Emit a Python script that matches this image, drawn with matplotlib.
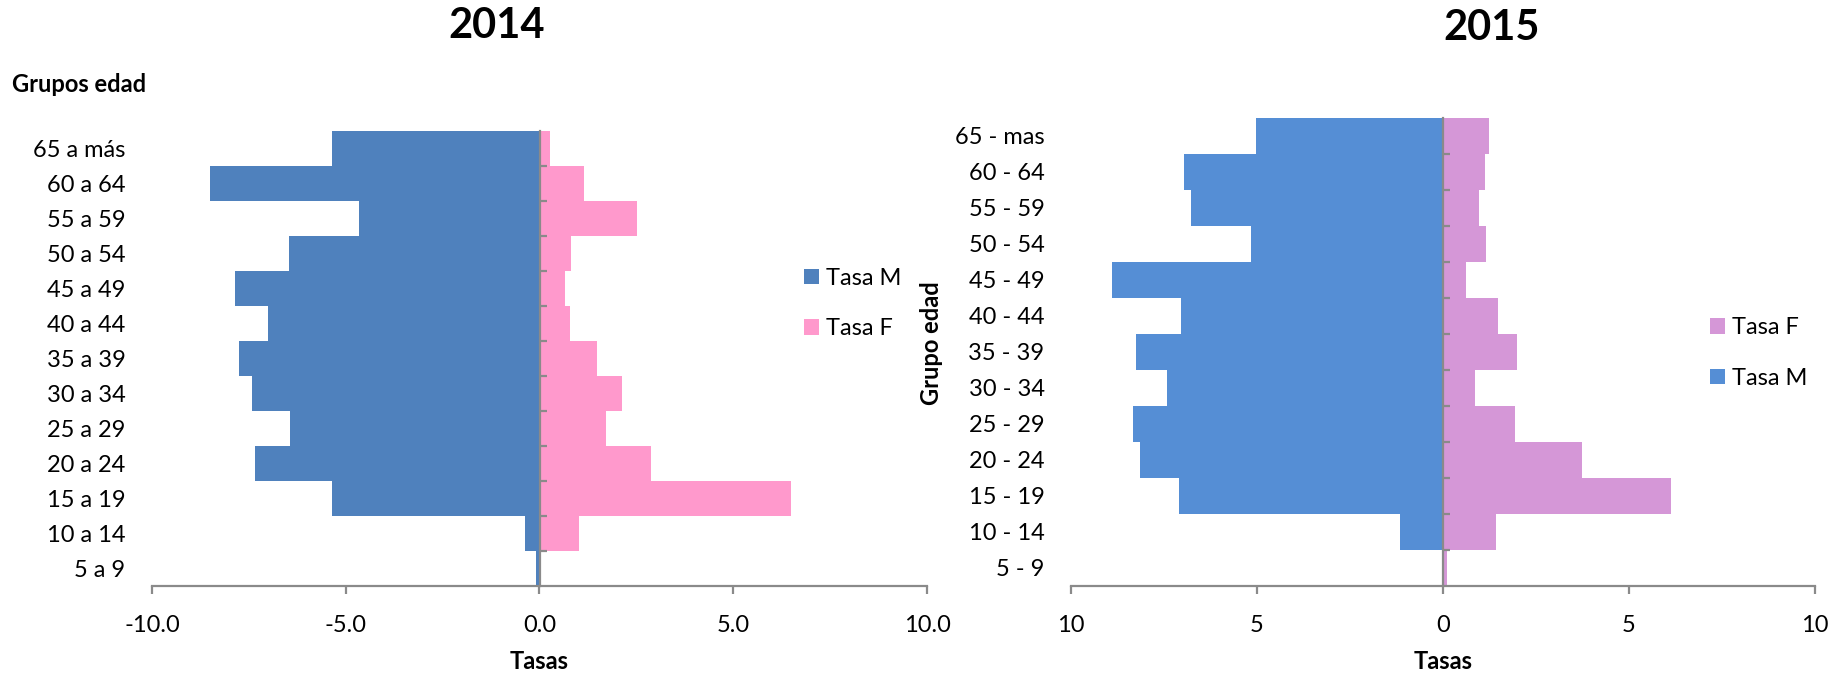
import matplotlib
matplotlib.use("Agg")
import matplotlib.pyplot as plt
from matplotlib.ticker import FuncFormatter
import numpy as np

plt.rcParams['font.family'] = ['Lato', 'DejaVu Sans']

# ---------------- data (bottom to top) ----------------
groups_2014 = ["5 a 9", "10 a 14", "15 a 19", "20 a 24", "25 a 29", "30 a 34",
               "35 a 39", "40 a 44", "45 a 49", "50 a 54", "55 a 59", "60 a 64", "65 a más"]
tasa_m_2014 = [-0.08, -0.38, -5.36, -7.35, -6.44, -7.41, -7.76, -7.01, -7.87, -6.46, -4.65, -8.50, -5.36]
tasa_f_2014 = [0.0, 1.03, 6.48, 2.89, 1.71, 2.13, 1.49, 0.79, 0.66, 0.82, 2.52, 1.16, 0.26]

groups_2015 = ["5 - 9", "10 - 14", "15 - 19", "20 - 24", "25 - 29", "30 - 34",
               "35 - 39", "40 - 44", "45 - 49", "50 - 54", "55 - 59", "60 - 64", "65 - mas"]
tasa_m_2015 = [0.0, -1.16, -7.09, -8.15, -8.33, -7.43, -8.26, -7.04, -8.90, -5.16, -6.78, -6.97, -5.04]
tasa_f_2015 = [0.11, 1.42, 6.12, 3.75, 1.93, 0.85, 2.00, 1.47, 0.63, 1.16, 0.96, 1.13, 1.23]

xticks = [-10, -5, 0, 5, 10]

# ---------------- styling ----------------
W, H = 1833, 675
fig = plt.figure(figsize=(W / 100, H / 100), dpi=100)
AXC = '#8a8a8a'
FS = 17


def px_axes(x0, x1, ytop, ybot):
    return fig.add_axes([x0 / W, 1 - ybot / H, (x1 - x0) / W, (ybot - ytop) / H])


ax1 = px_axes(152, 927, 131, 586)
ax2 = px_axes(1071, 1815, 118, 586)

specs = [
    (ax1, groups_2014, tasa_m_2014, tasa_f_2014, '#4f81bd', '#ff99cc',
     FuncFormatter(lambda v, p: f"{v:.1f}")),
    (ax2, groups_2015, tasa_m_2015, tasa_f_2015, '#558ed5', '#d597d7',
     FuncFormatter(lambda v, p: f"{abs(v):.0f}")),
]

handles = []
for ax, cats, m, f, cm, cf, fmt in specs:
    y = np.arange(len(cats))
    bm = ax.barh(y, m, height=1.0, color=cm, linewidth=0, label='Tasa M')
    bf = ax.barh(y, f, height=1.0, color=cf, linewidth=0, label='Tasa F')
    handles.append((bm, bf))
    ax.set_xlim(-10, 10)
    ax.set_ylim(-0.5, len(cats) - 0.5)
    ax.set_yticks(y, cats)
    ax.tick_params(axis='y', length=0, pad=19, labelsize=FS)
    for s in ['top', 'right', 'left']:
        ax.spines[s].set_visible(False)
    ax.spines['bottom'].set_color(AXC)
    ax.spines['bottom'].set_linewidth(1.6)
    ax.set_xticks(xticks)
    ax.xaxis.set_major_formatter(fmt)
    ax.tick_params(axis='x', length=6, width=1.6, color=AXC, labelsize=FS, pad=15)
    ax.set_xlabel('Tasas', fontsize=FS, fontweight='bold', labelpad=10)

    sec = ax.secondary_yaxis(0.5)
    sec.set_ylim(ax.get_ylim())
    sec.set_yticks(np.arange(0.5, len(cats) - 0.5, 1.0))
    sec.tick_params(axis='y', length=5, width=1.6, color=AXC,
                    labelleft=False, labelright=False)
    for s in sec.spines.values():
        s.set_color(AXC)
        s.set_linewidth(1.6)
    sec.set_zorder(5)

# titles
fig.text(497 / W, 1 - 26 / H, '2014', ha='center', va='center', fontsize=30, fontweight='bold')
fig.text(1492 / W, 1 - 28 / H, '2015', ha='center', va='center', fontsize=30, fontweight='bold')

# axis titles
fig.text(12 / W, 1 - 85 / H, 'Grupos edad', ha='left', va='center', fontsize=FS, fontweight='bold')
fig.text(932 / W, 1 - 343 / H, 'Grupo edad', ha='center', va='center', rotation=90,
         fontsize=FS, fontweight='bold')

# legends
bm1, bf1 = handles[0]
fig.legend([bm1, bf1], ['Tasa M', 'Tasa F'], loc='center left',
           bbox_to_anchor=(804 / W, 1 - 303.5 / H), frameon=False, fontsize=FS,
           handlelength=0.64, handleheight=0.64, handletextpad=0.3,
           labelspacing=1.25, borderpad=0, borderaxespad=0)
bm2, bf2 = handles[1]
fig.legend([bf2, bm2], ['Tasa F', 'Tasa M'], loc='center left',
           bbox_to_anchor=(1710 / W, 1 - 353 / H), frameon=False, fontsize=FS,
           handlelength=0.64, handleheight=0.64, handletextpad=0.3,
           labelspacing=1.25, borderpad=0, borderaxespad=0)

fig.savefig('out.png', dpi=100)
